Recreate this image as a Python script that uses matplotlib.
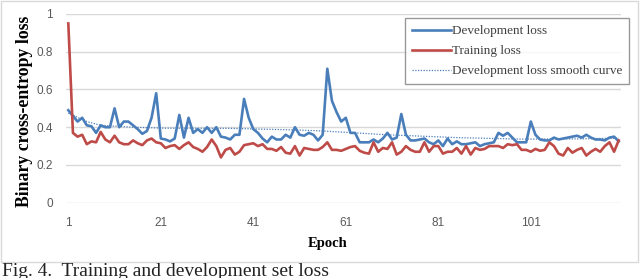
import matplotlib
matplotlib.use("Agg")
import matplotlib.pyplot as plt
from matplotlib.patches import Rectangle

epochs = list(range(1, 121))

dev_loss = [
    0.49, 0.46, 0.43, 0.45, 0.41, 0.405, 0.37, 0.41, 0.40, 0.40,
    0.50, 0.40, 0.43, 0.43, 0.41, 0.39, 0.365, 0.38, 0.45, 0.58,
    0.34, 0.335, 0.325, 0.34, 0.465, 0.345, 0.45, 0.37, 0.39, 0.37,
    0.40, 0.37, 0.40, 0.35, 0.345, 0.335, 0.36, 0.36, 0.55, 0.45,
    0.39, 0.37, 0.34, 0.32, 0.35, 0.335, 0.335, 0.36, 0.345, 0.40,
    0.36, 0.355, 0.37, 0.36, 0.33, 0.36, 0.71, 0.54, 0.48, 0.43,
    0.45, 0.37, 0.37, 0.32, 0.32, 0.32, 0.335, 0.32, 0.34, 0.37,
    0.335, 0.345, 0.47, 0.36, 0.33, 0.33, 0.335, 0.34, 0.32, 0.31,
    0.33, 0.30, 0.34, 0.31, 0.325, 0.31, 0.31, 0.315, 0.32, 0.30,
    0.31, 0.315, 0.32, 0.37, 0.355, 0.37, 0.345, 0.32, 0.32, 0.32,
    0.43, 0.36, 0.335, 0.33, 0.33, 0.345, 0.335, 0.34, 0.345, 0.35,
    0.355, 0.345, 0.36, 0.345, 0.335, 0.335, 0.33, 0.345, 0.35, 0.325,
]

train_loss = [
    0.95, 0.37, 0.35, 0.36, 0.31, 0.325, 0.32, 0.375, 0.335, 0.32,
    0.355, 0.32, 0.31, 0.31, 0.33, 0.315, 0.305, 0.33, 0.34, 0.32,
    0.315, 0.29, 0.30, 0.305, 0.285, 0.305, 0.32, 0.295, 0.285, 0.27,
    0.295, 0.335, 0.30, 0.24, 0.28, 0.29, 0.255, 0.27, 0.305, 0.31,
    0.315, 0.30, 0.31, 0.285, 0.285, 0.275, 0.295, 0.265, 0.26, 0.30,
    0.25, 0.29, 0.285, 0.28, 0.28, 0.295, 0.32, 0.28, 0.28, 0.275,
    0.285, 0.295, 0.30, 0.275, 0.265, 0.26, 0.32, 0.27, 0.29, 0.285,
    0.32, 0.255, 0.27, 0.30, 0.28, 0.27, 0.27, 0.32, 0.27, 0.30,
    0.30, 0.26, 0.27, 0.27, 0.29, 0.26, 0.30, 0.255, 0.29, 0.28,
    0.285, 0.30, 0.30, 0.30, 0.29, 0.31, 0.305, 0.31, 0.28, 0.28,
    0.27, 0.285, 0.275, 0.28, 0.32, 0.30, 0.26, 0.25, 0.29, 0.265,
    0.28, 0.29, 0.25, 0.27, 0.285, 0.27, 0.30, 0.32, 0.27, 0.33,
]

smooth_epochs = [1, 5, 8, 15, 22, 36, 51, 56, 70, 85, 99, 110, 120]
smooth_loss = [0.475, 0.43, 0.41, 0.40, 0.395, 0.394, 0.385, 0.38, 0.36, 0.345, 0.337, 0.338, 0.342]

xtick_values = [1, 21, 41, 61, 81, 101]
ytick_values = [0, 0.2, 0.4, 0.6, 0.8, 1.0]
ytick_labels = ["0", "0.2", "0.4", "0.6", "0.8", "1"]

W, H = 640, 278
fig = plt.figure(figsize=(W / 100, H / 100), dpi=100)

# outer chart border
fig.patches.append(Rectangle((0.5 / W, 1 - 261.7 / H), 637.5 / W, 261.2 / H,
                             transform=fig.transFigure, fill=False,
                             edgecolor="#d9d9d9", linewidth=1.0))

left, right = 66 / W, 621 / W
bottom, top = 1 - 202.7 / H, 1 - 14 / H
ax = fig.add_axes([left, bottom, right - left, top - bottom])

blue = "#4a7ebb"
red = "#be4b48"

ax.plot(epochs, dev_loss, color=blue, lw=1.9, label="Development loss",
        solid_joinstyle="round", zorder=3)
ax.plot(epochs, train_loss, color=red, lw=1.9, label="Training loss",
        solid_joinstyle="round", zorder=3)
ax.plot(smooth_epochs, smooth_loss, color=blue, lw=0.9, ls=(0, (1, 1.2)),
        label="Development loss smooth curve", zorder=2)

ax.set_xlim(0.5, 120.5)
ax.set_ylim(0, 1)
ax.set_xticks(xtick_values)
ax.set_yticks(ytick_values)
ax.set_yticklabels(ytick_labels)
ax.grid(axis="y", color="#d9d9d9", lw=1.0)
ax.set_axisbelow(True)
for s in ax.spines.values():
    s.set_visible(False)
ax.tick_params(length=0, labelsize=8.5, labelcolor="#595959")
ax.tick_params(axis="y", pad=9.5)
ax.tick_params(axis="x", pad=10)
for lab in ax.get_xticklabels() + ax.get_yticklabels():
    lab.set_family("Liberation Sans")

serif = "Liberation Serif"
fig.text(25 / W, 1 - 111 / H, "Binary cross-entropy loss", rotation=90,
         ha="center", va="center", fontsize=12.8, fontweight="bold", family=serif)
fig.text(328 / W, 1 - 243 / H, "Epoch", ha="center", va="center",
         fontsize=10.5, fontweight="bold", family=serif)

leg = ax.legend(loc="upper left", bbox_to_anchor=(405 / W, 1 - 18.3 / H),
                bbox_transform=fig.transFigure, prop={"family": serif, "size": 9.5},
                frameon=True, fancybox=False, handlelength=3.0, handletextpad=0.1,
                labelspacing=0.6, borderpad=0.5, borderaxespad=0)
leg.get_frame().set_edgecolor("#808080")
leg.get_frame().set_linewidth(1.0)
for t in leg.get_texts():
    t.set_color("#404040")

fig.text(2 / W, 1 - 263.5 / H, "Fig. 4.  Training and development set loss",
         ha="left", va="top", fontsize=14, family=serif, color="#222222")

fig.savefig("out.png", dpi=100)
